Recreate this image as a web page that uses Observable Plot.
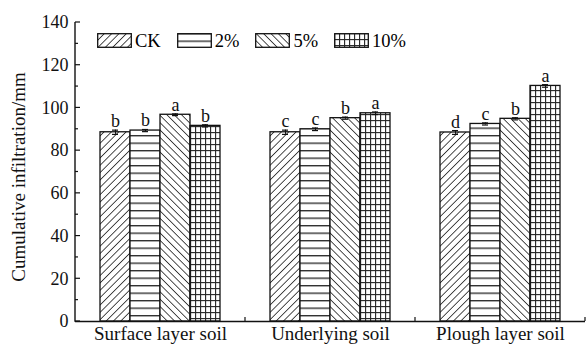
<!DOCTYPE html>
<html><head><meta charset="utf-8">
<script src="https://cdn.jsdelivr.net/npm/d3@7"></script>
<script src="https://cdn.jsdelivr.net/npm/@observablehq/plot@0.6"></script>
<style>
body{margin:0;background:#fff;}
#wrap{position:relative;width:586px;height:344px;font-family:"Liberation Serif","Times New Roman",serif;background:#fff;}
#wrap svg text{font-family:"Liberation Serif","Times New Roman",serif !important;}
#legend{position:absolute;left:97px;top:33px;display:flex;align-items:center;font-size:18.5px;line-height:14px;color:#000;}
.item{display:flex;align-items:center;margin-right:16px;}
.item svg{margin-right:3px;display:block;}
#defs{position:absolute;width:0;height:0;}
</style>
</head><body>
<div id="wrap"><div id="legend"></div></div>
<script>
// ---- data ----
const groups = ["Surface layer soil", "Underlying soil", "Plough layer soil"];
const treatments = ["CK", "2%", "5%", "10%"];
const valCK  = [88.6, 88.6, 88.5];
const val2   = [89.4, 90.0, 92.5];
const val5   = [96.8, 95.2, 94.9];
const val10  = [91.6, 97.5, 110.3];
const errCK  = [1.0, 1.0, 0.9];
const err2   = [0.5, 0.6, 0.5];
const err5   = [0.4, 0.5, 0.5];
const err10  = [0.5, 0.6, 0.6];
const letCK  = ["b", "c", "d"];
const let2   = ["b", "c", "c"];
const let5   = ["a", "b", "b"];
const let10  = ["b", "a", "a"];
const yTicks = [0, 20, 40, 60, 80, 100, 120, 140];

const series = {CK: [valCK, errCK, letCK], "2%": [val2, err2, let2], "5%": [val5, err5, let5], "10%": [val10, err10, let10]};
const patId = {CK: "pat-ck", "2%": "pat-2", "5%": "pat-5", "10%": "pat-10"};
const data = [];
groups.forEach((g, i) => treatments.forEach(t => {
  const [v, e, l] = series[t];
  data.push({group: g, treatment: t, value: v[i], err: e[i], letter: l[i]});
}));

// ---- pattern defs (document-wide) ----
const defsSvg = d3.select("body").append("svg").attr("id", "defs").attr("width", 0).attr("height", 0);
const defs = defsSvg.append("defs");
function linePat(id, rot, size) {
  const p = defs.append("pattern").attr("id", id).attr("patternUnits", "userSpaceOnUse")
    .attr("width", size).attr("height", size).attr("patternTransform", `rotate(${rot})`);
  p.append("rect").attr("width", size).attr("height", size).attr("fill", "#fff");
  p.append("line").attr("x1", 0).attr("y1", 0).attr("x2", 0).attr("y2", size).attr("stroke", "#222").attr("stroke-width", 1.6);
}
linePat("pat-ck", 45, 5.2);
linePat("pat-5", -45, 5.2);
{
  const p = defs.append("pattern").attr("id", "pat-2").attr("patternUnits", "userSpaceOnUse").attr("width", 8).attr("height", 7.5);
  p.append("rect").attr("width", 8).attr("height", 7.5).attr("fill", "#fff");
  p.append("line").attr("x1", 0).attr("y1", 0.7).attr("x2", 8).attr("y2", 0.7).attr("stroke", "#222").attr("stroke-width", 1.3);
}
{
  const p = defs.append("pattern").attr("id", "pat-10").attr("patternUnits", "userSpaceOnUse").attr("width", 5).attr("height", 6);
  p.append("rect").attr("width", 5).attr("height", 6).attr("fill", "#fff");
  p.append("line").attr("x1", 0.6).attr("y1", 0).attr("x2", 0.6).attr("y2", 6).attr("stroke", "#222").attr("stroke-width", 1.1);
  p.append("line").attr("x1", 0).attr("y1", 0.6).attr("x2", 5).attr("y2", 0.6).attr("stroke", "#222").attr("stroke-width", 1.1);
}

// ---- chart ----
const font = '"Liberation Serif", "Times New Roman", serif';
const barMarks = treatments.map(t => Plot.barY(data.filter(d => d.treatment === t), {
  x: "treatment", y: "value", fx: "group", fill: `url(#${patId[t]})`, stroke: "#111", strokeWidth: 1.3
}));

const plot = Plot.plot({
  width: 586, height: 344,
  marginLeft: 75, marginRight: 1, marginTop: 22, marginBottom: 23,
  style: {fontFamily: font, fontSize: "18px", color: "#111", background: "#fff"},
  fx: {domain: groups, padding: 0, label: null, tickSize: 0, tickPadding: 5, axis: "bottom"},
  x: {domain: treatments, paddingInner: 0, paddingOuter: 25 / 30, axis: null},
  y: {domain: [0, 140], ticks: yTicks, tickSize: 0, tickPadding: 7, label: "Cumulative infiltration/mm",
      labelAnchor: "center", labelOffset: 64, labelArrow: false},
  marks: [
    ...barMarks,
    Plot.ruleX(data, {x: "treatment", fx: "group", y1: d => d.value - d.err, y2: d => d.value + d.err, stroke: "#111", strokeWidth: 1}),
    Plot.tickY(data, {x: "treatment", fx: "group", y: d => d.value + d.err, stroke: "#111", strokeWidth: 1.2, insetLeft: 12, insetRight: 12}),
    Plot.tickY(data, {x: "treatment", fx: "group", y: d => d.value - d.err, stroke: "#111", strokeWidth: 1.2, insetLeft: 12, insetRight: 12}),
    Plot.text(data, {x: "treatment", fx: "group", y: d => d.value + d.err, text: "letter", dy: -3, lineAnchor: "bottom", fontSize: 18, fill: "#111"}),
    Plot.ruleY([0], {stroke: "#111", strokeWidth: 1.4})
  ]
});

document.getElementById("wrap").prepend(plot);
const svg = d3.select(plot);
// slightly larger y-axis title and category labels, as in the original
svg.selectAll('g[aria-label="y-axis label"]').attr("font-size", 19).attr("transform", function () {
  const t = d3.select(this).attr("transform") || "";
  return t + " translate(0,5)";
});
svg.selectAll('g[aria-label="fx-axis tick label"]').attr("font-size", 19);

const yS = plot.scale("y"), fxS = plot.scale("fx");
const ax = svg.append("g").attr("stroke", "#111").attr("fill", "none");
const left = 75;
ax.append("line").attr("x1", left).attr("x2", left).attr("y1", yS.apply(0) + 0.7).attr("y2", yS.apply(140)).attr("stroke-width", 1.4);
for (let v = 0; v <= 140; v += 10) {
  const len = v % 20 === 0 ? 5 : 3;
  ax.append("line").attr("x1", left).attr("x2", left + len).attr("y1", yS.apply(v)).attr("y2", yS.apply(v)).attr("stroke-width", 1.2);
}
groups.forEach(g => {
  const xb = fxS.apply(g) + fxS.bandwidth;
  ax.append("line").attr("x1", xb).attr("x2", xb).attr("y1", yS.apply(0)).attr("y2", yS.apply(0) - 4).attr("stroke-width", 1.2);
});

// ---- legend (inside plot area, as in original) ----
const leg = d3.select("#legend");
treatments.forEach(t => {
  const it = leg.append("div").attr("class", "item");
  const s = it.append("svg").attr("width", 35).attr("height", 15);
  s.append("rect").attr("x", 0.7).attr("y", 0.7).attr("width", 33.6).attr("height", 13.6)
    .attr("fill", `url(#${patId[t]})`).attr("stroke", "#111").attr("stroke-width", 1.3);
  it.append("span").text(t);
});
</script>
</body></html>
